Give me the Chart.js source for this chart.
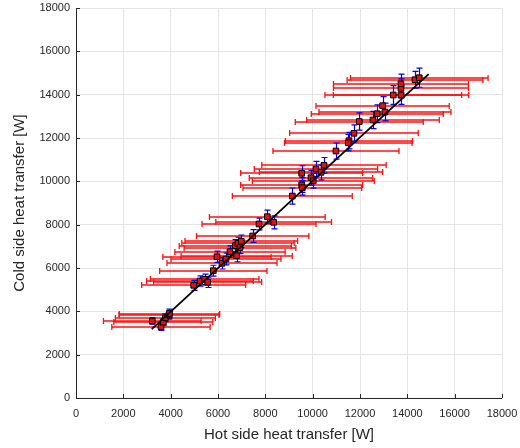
<!DOCTYPE html>
<html>
<head>
<meta charset="utf-8">
<script src="https://cdn.jsdelivr.net/npm/chart.js@4/dist/chart.umd.min.js"></script>
<style>
  html, body { margin: 0; padding: 0; background: #fff; }
  #wrap { width: 520px; height: 448px; }
</style>
</head>
<body>
<div id="wrap"><canvas id="heatChart" width="520" height="448"></canvas></div>
<script>
// Valores (W)
const hotQ  = [3224, 3591, 3690, 3775, 3930, 3950,
               4972, 5239, 5436, 5563, 5802, 5957, 6169, 6338, 6507, 6788, 6731, 6845, 6985, 6929, 7465, 7732, 8083, 8352,
               9140, 9535, 9535, 9563, 9929, 10027, 10140, 10351, 10478, 10985,
               11534, 11505, 11745, 11970, 12548, 12730, 12956, 13055, 13406, 13731, 13731, 13731, 14323, 14505];
const coldQ = [3554, 3290, 3500, 3700, 3830, 3900,
               5200, 5400, 5478, 5340, 5876, 6523, 6215, 6415, 6754, 6569, 7031, 7140, 7232, 6939, 7477, 8031, 8368, 8108,
               9322, 10370, 9830, 9705, 10167, 10030, 10568, 10416, 10739, 11399,
               11876, 11782, 12215, 12761, 12830, 13121, 13490, 13199, 13983, 13983, 14290, 14505, 14690, 14782];
// incertezas (±)
const hotErr  = [2063, 2077, 2091, 2112, 2112, 2120,
                 2198, 2252, 2296, 2283, 2267, 2288, 2324, 2323, 2330, 2350, 2370, 2375, 2380, 2360, 2373, 2408, 2445, 2444,
                 2534, 2578, 2578, 2508, 2607, 2576, 2606, 2606, 2628, 2662,
                 2686, 2695, 2718, 2704, 2802, 2789, 2816, 2788, 2889, 2860, 2852, 2852, 2867, 2907];
const coldErr = [150, 170, 160, 180, 190, 200,
                 230, 240, 240, 240, 250, 260, 260, 270, 270, 280, 280, 280, 290, 280, 290, 270, 300, 300,
                 370, 350, 340, 340, 340, 340, 350, 350, 360, 370,
                 380, 380, 390, 400, 400, 410, 420, 410, 430, 430, 440, 440, 385, 440];
// reta de ajuste
const fitX = [3200, 14900];
const fitY = [3180, 14950];
const axisTicks = [0, 2000, 4000, 6000, 8000, 10000, 12000, 14000, 16000, 18000];

const FONT = "'Liberation Sans', Arial, Helvetica, sans-serif";
const AXIS_COLOR = '#262626';

const points = hotQ.map((x, i) => ({ x, y: coldQ[i] }));
const fitLine = fitX.map((x, i) => ({ x, y: fitY[i] }));

const snap = v => Math.round(v) + 0.5;

// barras de erro desenhadas pelas escalas do próprio Chart.js
const errorBars = {
  id: 'errorBars',
  beforeDatasetsDraw(chart) {
    const { ctx, scales: { x, y } } = chart;
    ctx.save();
    const cap = 3;
    // horizontais (vermelho)
    ctx.lineWidth = 1.3;
    ctx.strokeStyle = '#ff1010';
    hotQ.forEach((v, i) => {
      const py = Math.round(y.getPixelForValue(coldQ[i]));
      const x0 = x.getPixelForValue(v - hotErr[i]);
      const x1 = x.getPixelForValue(v + hotErr[i]);
      ctx.beginPath();
      ctx.moveTo(x0, py); ctx.lineTo(x1, py);
      ctx.moveTo(x0, py - cap); ctx.lineTo(x0, py + cap);
      ctx.moveTo(x1, py - cap); ctx.lineTo(x1, py + cap);
      ctx.stroke();
    });
    // verticais (azul)
    ctx.lineWidth = 1.2;
    ctx.strokeStyle = '#0000ff';
    hotQ.forEach((v, i) => {
      const px = snap(x.getPixelForValue(v));
      const y0 = y.getPixelForValue(coldQ[i] - coldErr[i]);
      const y1 = y.getPixelForValue(coldQ[i] + coldErr[i]);
      ctx.beginPath();
      ctx.moveTo(px, y0); ctx.lineTo(px, y1);
      ctx.moveTo(px - cap, y0); ctx.lineTo(px + cap, y0);
      ctx.moveTo(px - cap, y1); ctx.lineTo(px + cap, y1);
      ctx.stroke();
    });
    ctx.restore();
  }
};

// eixos estilo MATLAB: linhas só à esquerda/embaixo, ticks para dentro
const matlabAxes = {
  id: 'matlabAxes',
  afterDraw(chart) {
    const { ctx, chartArea: a, scales: { x, y } } = chart;
    ctx.save();
    ctx.strokeStyle = AXIS_COLOR;
    ctx.lineWidth = 1;
    ctx.beginPath();
    ctx.moveTo(a.left + 0.5, a.top); ctx.lineTo(a.left + 0.5, a.bottom + 0.5);
    ctx.lineTo(a.right, a.bottom + 0.5);
    x.ticks.forEach(t => {
      const px = snap(x.getPixelForValue(t.value));
      ctx.moveTo(px, a.bottom); ctx.lineTo(px, a.bottom - 4);
    });
    y.ticks.forEach(t => {
      const py = snap(y.getPixelForValue(t.value));
      ctx.moveTo(a.left, py); ctx.lineTo(a.left + 4, py);
    });
    ctx.stroke();
    ctx.restore();
  }
};

new Chart(document.getElementById('heatChart'), {
  type: 'scatter',
  data: {
    datasets: [
      {
        label: 'fit',
        data: fitLine,
        showLine: true,
        borderColor: '#000000',
        borderWidth: 1.8,
        pointRadius: 0,
        order: 0,
      },
      {
        label: 'medições',
        data: points,
        pointStyle: 'rect',
        pointRadius: 4,
        backgroundColor: '#e01010',
        borderColor: '#000000',
        borderWidth: 1,
        order: 1,
      },
    ],
  },
  options: {
    responsive: false,
    animation: false,
    devicePixelRatio: 1,
    layout: { padding: { top: 8, right: 18, left: 0, bottom: 0 } },
    plugins: { legend: { display: false }, tooltip: { enabled: false } },
    scales: {
      x: {
        type: 'linear',
        min: 0, max: 18000,
        afterBuildTicks: s => { s.ticks = axisTicks.map(v => ({ value: v })); },
        afterFit: s => { s.height = 50; s.paddingLeft = 0; s.paddingRight = 0; },
        grid: { color: '#e5e5e5', drawTicks: false },
        border: { display: false },
        ticks: { color: AXIS_COLOR, font: { family: FONT, size: 11 }, padding: 9, maxRotation: 0, autoSkip: false,
                 callback: v => String(v) },
        title: { display: true, text: 'Hot side heat transfer [W]', color: AXIS_COLOR, font: { family: FONT, size: 15 }, padding: { top: 5 } },
      },
      y: {
        type: 'linear',
        min: 0, max: 18000,
        afterBuildTicks: s => { s.ticks = axisTicks.map(v => ({ value: v })); },
        afterFit: s => { s.width = 76; s.paddingTop = 0; s.paddingBottom = 0; },
        grid: { color: '#e5e5e5', drawTicks: false },
        border: { display: false },
        ticks: { color: AXIS_COLOR, font: { family: FONT, size: 11 }, padding: 6, autoSkip: false,
                 callback: v => String(v) },
        title: { display: true, text: 'Cold side heat transfer [W]', color: AXIS_COLOR, font: { family: FONT, size: 15 }, padding: { top: 11, bottom: 0 } },
      },
    },
  },
  plugins: [errorBars, matlabAxes],
});
</script>
</body>
</html>
